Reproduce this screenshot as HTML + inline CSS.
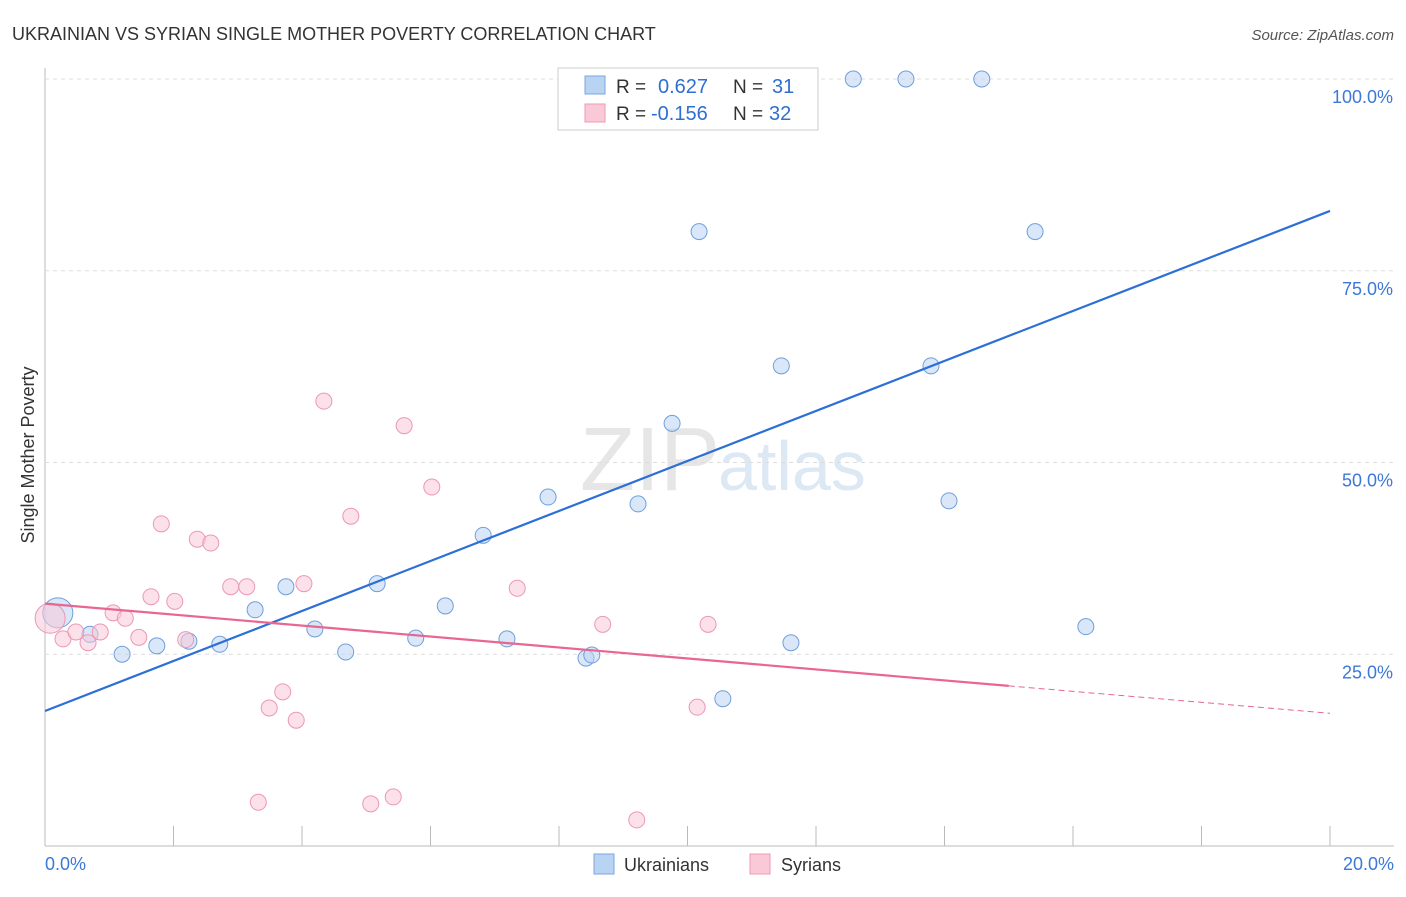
<!DOCTYPE html>
<html><head><meta charset="utf-8"><style>
body{margin:0;background:#fff;font-family:"Liberation Sans",sans-serif}
svg text{font-family:"Liberation Sans",sans-serif}
</style></head><body>
<svg id="c" width="1406" height="892">
<text x="12" y="40" font-size="18" fill="#333">UKRAINIAN VS SYRIAN SINGLE MOTHER POVERTY CORRELATION CHART</text>
<text x="1394" y="40" font-size="15" fill="#555" text-anchor="end" font-style="italic">Source: ZipAtlas.com</text>
<text x="720" y="490" font-size="90" fill="#e6e6e6" text-anchor="end" font-family="Liberation Serif">ZIP</text>
<text x="718" y="490" font-size="70" fill="#dde8f5">atlas</text>
<text transform="translate(34,455) rotate(-90)" font-size="18" fill="#333" text-anchor="middle">Single Mother Poverty</text>
<g id="grid"></g><g id="marks"></g>
<g>
<rect x="558" y="68" width="260" height="62" fill="#fff" stroke="#ccc"/>
<rect x="585" y="76" width="20" height="18" fill="#b9d3f3" stroke="#7aa6dd"/>
<rect x="585" y="104" width="20" height="18" fill="#f9c9d8" stroke="#ee9ab6"/>
<text x="616" y="93" font-size="19" fill="#333">R =</text>
<text x="658" y="93" font-size="20" fill="#2f6fd1">0.627</text>
<text x="733" y="93" font-size="19" fill="#333">N =</text>
<text x="772" y="93" font-size="20" fill="#2f6fd1">31</text>
<text x="616" y="120" font-size="19" fill="#333">R =</text>
<text x="651" y="120" font-size="20" fill="#2f6fd1">-0.156</text>
<text x="733" y="120" font-size="19" fill="#333">N =</text>
<text x="769" y="120" font-size="20" fill="#2f6fd1">32</text>
</g>
<g>
<rect x="594" y="854" width="20" height="20" fill="#b9d3f3" stroke="#7aa6dd"/>
<text x="624" y="871" font-size="18" fill="#333">Ukrainians</text>
<rect x="750" y="854" width="20" height="20" fill="#f9c9d8" stroke="#ee9ab6"/>
<text x="781" y="871" font-size="18" fill="#333">Syrians</text>
</g>
</svg>
<script>
const yTicks=[25,50,75,100];
const yTickLabels=["25.0%","50.0%","75.0%","100.0%"];
const xTicks=[0,2,4,6,8,10,12,14,16,18,20];
const ukrX=[0.20,0.70,1.20,1.74,2.24,2.72,3.27,3.75,4.20,4.68,5.17,5.77,6.23,6.82,7.19,7.83,8.42,8.51,9.23,9.76,10.18,10.55,11.46,11.61,12.58,13.40,13.79,14.07,14.58,15.41,16.20];
const ukrY=[30.4,27.6,25.0,26.1,26.7,26.3,30.8,33.8,28.3,25.3,34.2,27.1,31.3,40.5,27.0,45.5,24.5,24.9,44.6,55.1,80.1,19.2,62.6,26.5,100,100,62.6,45.0,100,80.1,28.6];
const syrX=[0.08,0.28,0.48,0.67,0.86,1.06,1.25,1.46,1.65,1.81,2.02,2.19,2.37,2.58,2.89,3.14,3.32,3.49,3.70,3.91,4.03,4.34,4.76,5.07,5.42,5.59,6.02,7.35,8.68,9.21,10.15,10.32];
const syrY=[29.7,27.0,27.9,26.5,27.9,30.4,29.7,27.2,32.5,42.0,31.9,26.9,40.0,39.5,33.8,33.8,5.7,18.0,20.1,16.4,34.2,58.0,43.0,5.5,6.4,54.8,46.8,33.6,28.9,3.4,18.1,28.9];
const ukrTrend=[17.6,82.8];
const syrTrend=[31.6,17.3];
const X=v=>45+v*64.25, Y=v=>846-v*7.67;
const NS="http://www.w3.org/2000/svg";
function mk(p,t,a){const e=document.createElementNS(NS,t);for(const k in a)e.setAttribute(k,a[k]);p.appendChild(e);return e;}
const g=document.getElementById('grid'),m=document.getElementById('marks');
let e=mk(g,'line',{x1:45,x2:45,y1:68,y2:846,stroke:'#bbb'});


e=mk(g,'line',{x1:45,x2:1394,y1:846,y2:846,stroke:'#bbb'});


yTicks.forEach((t,i)=>{
 const l=mk(g,'line',{x1:45,x2:1394,y1:Y(t),y2:Y(t),stroke:'#ddd','stroke-dasharray':'4,4'});
 
 
 const tx=mk(g,'text',{x:1393,y:Y(t)+24,'font-size':18,fill:'#3b78d8','text-anchor':'end'});tx.textContent=yTickLabels[i];
 
 
});
xTicks.forEach(t=>{
 const l=mk(g,'line',{x1:X(t),x2:X(t),y1:826,y2:846,stroke:'#bbb'});
 
 
});
[[0,"0.0%",'start',45],[20,"20.0%",'end',1394]].forEach(a=>{
 const tx=mk(g,'text',{x:a[3],y:870,'font-size':18,fill:'#3b78d8','text-anchor':a[2]});tx.textContent=a[1];
 
 
});
function pts(xs,ys,fill,stroke,name){xs.forEach((x,i)=>{
 const c=mk(m,'circle',{cx:X(x),cy:Y(ys[i]),r:i==0?15:8,fill:fill,'fill-opacity':0.55,stroke:stroke,'stroke-width':1});
 
 
});}
pts(ukrX,ukrY,'#b9d3f3','#6f9fdc','ukrainian-point');
pts(syrX,syrY,'#f9c9d8','#ec97b4','syrian-point');
e=mk(m,'line',{x1:X(0),y1:Y(ukrTrend[0]),x2:X(20),y2:Y(ukrTrend[1]),stroke:'#2c6fd6','stroke-width':2.2});


const sy=v=>syrTrend[0]+(syrTrend[1]-syrTrend[0])*v/20;
e=mk(m,'line',{x1:X(0),y1:Y(sy(0)),x2:X(15),y2:Y(sy(15)),stroke:'#e8668f','stroke-width':2.2});


e=mk(m,'line',{x1:X(15),y1:Y(sy(15)),x2:X(20),y2:Y(sy(20)),stroke:'#e8668f','stroke-width':1,'stroke-dasharray':'6,4'});


</script>
</body></html>
